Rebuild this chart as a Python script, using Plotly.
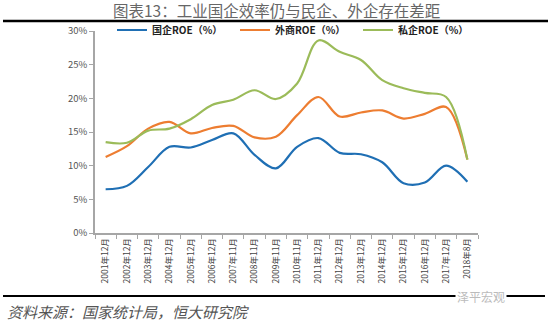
import plotly.graph_objects as go

categories = ["2001年12月", "2002年12月", "2003年12月", "2004年12月", "2005年12月", "2006年12月",
              "2007年11月", "2008年11月", "2009年11月", "2010年11月", "2011年12月", "2012年12月",
              "2013年12月", "2014年12月", "2015年12月", "2016年12月", "2017年12月", "2018年8月"]
soe_roe = [6.5, 7.0, 9.8, 12.8, 12.7, 13.8, 14.8, 11.6, 9.6, 12.8, 14.1, 11.9, 11.7, 10.5, 7.4, 7.5, 10.0, 7.6]
foreign_roe = [11.3, 12.9, 15.5, 16.5, 14.8, 15.6, 15.9, 14.2, 14.3, 17.5, 20.2, 17.3, 17.9, 18.2, 17.0, 17.7, 18.7, 10.9]
private_roe = [13.5, 13.4, 15.2, 15.5, 16.9, 19.0, 19.8, 21.2, 19.9, 22.2, 28.6, 26.9, 25.7, 22.7, 21.5, 20.8, 20.2, 10.9]
y_ticks = [0, 5, 10, 15, 20, 25, 30]
y_tick_labels = ["0%", "5%", "10%", "15%", "20%", "25%", "30%"]
series_names = ["<b>国企ROE（%）</b>", "<b>外商ROE（%）</b>", "<b>私企ROE（%）</b>"]
colors = ["#1F6FB4", "#ED7D31", "#9BBB59"]

fig = go.Figure()
for name, vals, c in zip(series_names, [soe_roe, foreign_roe, private_roe], colors):
    fig.add_trace(go.Scatter(x=categories, y=vals, name=name, mode="lines",
                             line=dict(color=c, width=2.2, shape="spline", smoothing=1.0)))

L, R, T, B = 95, 72, 31, 91
W, H = 550, 324
pw, ph = W - L - R, H - T - B

def px_x(x):
    return (x - L) / pw

def px_y(y):
    return (H - B - y) / ph

fig.update_layout(
    width=W, height=H,
    margin=dict(l=L, r=R, t=T, b=B, pad=0),
    paper_bgcolor="white", plot_bgcolor="white",
    font=dict(family="Noto Sans CJK SC, sans-serif", color="#444"),
    showlegend=True,
    legend=dict(orientation="h", x=px_x(112), xanchor="left", y=px_y(30), yanchor="middle",
                font=dict(size=10, color="#222", family="Noto Sans CJK SC, sans-serif"),
                bgcolor="rgba(0,0,0,0)", entrywidth=78, entrywidthmode="pixels",
                itemwidth=30, tracegroupgap=0),
    xaxis=dict(type="category", showgrid=False, showline=True, linecolor="#A6A6A6", linewidth=1.5,
               ticks="outside", tickson="boundaries", ticklen=4, tickcolor="#A6A6A6",
               tickangle=-90, tickfont=dict(size=8.5, color="#444"), range=[-0.5, 17.5]),
    yaxis=dict(range=[0, 30], tickmode="array", tickvals=y_ticks, ticktext=y_tick_labels,
               showgrid=False, showline=True, linecolor="#A6A6A6", linewidth=1.5,
               ticks="outside", ticklen=4, tickcolor="#A6A6A6",
               tickfont=dict(size=9.5, color="#555"), zeroline=False),
    shapes=[
        dict(type="line", xref="paper", yref="paper", x0=px_x(3), x1=px_x(548), y0=px_y(21), y1=px_y(21),
             line=dict(color="black", width=2.5)),
        dict(type="line", xref="paper", yref="paper", x0=px_x(3), x1=px_x(545), y0=px_y(296), y1=px_y(296),
             line=dict(color="black", width=2)),
    ],
    annotations=[
        dict(text="图表13：工业国企效率仍与民企、外企存在差距", xref="paper", yref="paper",
             x=px_x(276), y=px_y(10.5), xanchor="center", yanchor="middle", showarrow=False,
             font=dict(size=15.5, color="#666", family="Noto Sans CJK SC, sans-serif")),
        dict(text="<i>资料来源：国家统计局，恒大研究院</i>", xref="paper", yref="paper",
             x=px_x(5), y=px_y(311), xanchor="left", yanchor="middle", showarrow=False,
             font=dict(size=15, color="#555", family="Noto Sans CJK SC, sans-serif")),
        dict(text="泽平宏观", xref="paper", yref="paper",
             x=px_x(481), y=px_y(296), xanchor="center", yanchor="middle", showarrow=False,
             bgcolor="white",
             font=dict(size=12, color="#BBBBBB", family="Noto Sans CJK SC, sans-serif")),
    ],
)

fig.write_html("out.html")
